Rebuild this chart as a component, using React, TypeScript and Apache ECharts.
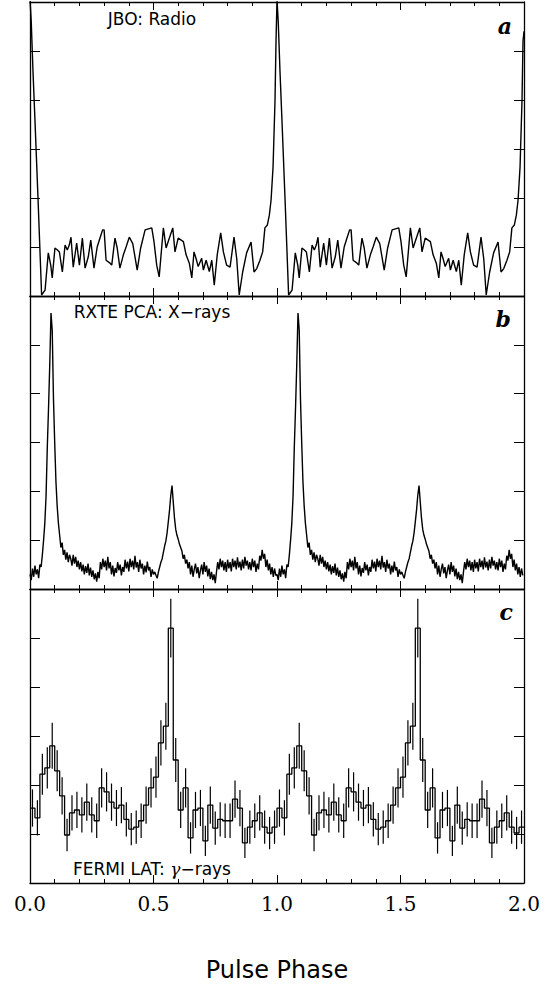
import React, { useEffect, useRef } from "react";
import * as echarts from "echarts";

// ---------- DATA (one rotation; the figure shows two identical cycles) ----------
// Panel a: JBO radio profile [phase, intensity]
const radioPhase = [
  0.0, 0.005, 0.012, 0.02, 0.032, 0.042, 0.047, 0.061, 0.074, 0.084, 0.09, 0.101, 0.111, 0.119, 0.131,
  0.142, 0.151, 0.159, 0.166, 0.175, 0.189, 0.2, 0.212, 0.223, 0.236, 0.246, 0.259, 0.272, 0.283,
  0.294, 0.3, 0.308, 0.324, 0.331, 0.344, 0.353, 0.364, 0.378, 0.389, 0.402, 0.416, 0.434, 0.448,
  0.466, 0.493, 0.502, 0.513, 0.523, 0.54, 0.551, 0.564, 0.578, 0.587, 0.6, 0.621, 0.632, 0.645,
  0.655, 0.664, 0.672, 0.681, 0.695, 0.702, 0.713, 0.726, 0.736, 0.746, 0.758, 0.772, 0.783, 0.796,
  0.81, 0.826, 0.837, 0.847, 0.861, 0.877, 0.895, 0.907, 0.918, 0.931, 0.942, 0.951, 0.961, 0.969,
  0.976, 0.984, 0.992, 0.996,
];
const radioValue = [
  6.05, 5.6, 4.6, 3.6, 2.05, 0.7, 0.02, 0.12, 0.88, 0.63, 0.37, 0.98, 0.94, 0.9, 0.49,
  1.04, 0.94, 1.04, 1.2, 0.59, 1.08, 0.63, 1.18, 0.57, 0.8, 1.14, 0.57, 1.0, 1.18,
  1.35, 1.35, 0.73, 0.67, 0.63, 1.18, 0.98, 0.57, 0.84, 1.0, 1.2, 1.07, 0.53, 0.98,
  1.35, 1.39, 1.11, 0.63, 0.39, 1.39, 0.98, 1.18, 1.39, 0.9, 1.18, 1.11, 0.84, 0.67,
  0.37, 0.9, 0.77, 0.6, 0.77, 0.53, 0.73, 0.5, 0.73, 0.22, 0.84, 1.29, 0.9, 0.63,
  0.59, 1.2, 0.76, 0.02, 0.49, 0.88, 1.1, 0.49, 0.56, 0.73, 0.9, 1.39, 1.45, 1.65,
  1.96, 2.63, 4.0, 5.2,
];
const radioEndValue = 5.4; // last point at phase 2.0

// Panel b: RXTE PCA X-ray profile, phase step 0.005 from 0.000 to 0.995
const xrayStep = 0.005;
const xrayValue = [
  0.30, 0.18, 0.42, 0.25, 0.48, 0.30, 0.40, 0.22, 0.50, 0.45,
  0.70, 1.00, 1.35, 1.90, 2.90, 3.70, 4.60, 5.65, 5.30, 3.90, 3.00, 2.20, 1.70, 1.35, 1.10, 0.85, 0.95, 0.70, 0.80, 0.60, 0.75, 0.55, 0.70,
  0.62, 0.48, 0.70, 0.52, 0.66, 0.45, 0.58, 0.40, 0.55, 0.36,
  0.50, 0.30, 0.47, 0.33, 0.52, 0.28, 0.44, 0.25, 0.38, 0.20,
  0.32, 0.15, 0.35, 0.22, 0.55, 0.40, 0.62, 0.45, 0.58, 0.38,
  0.66, 0.42, 0.55, 0.30, 0.48, 0.26, 0.43, 0.33, 0.55, 0.38,
  0.50, 0.28, 0.45, 0.35, 0.60, 0.42, 0.56, 0.36, 0.62, 0.45,
  0.58, 0.40, 0.68, 0.44, 0.55, 0.35, 0.60, 0.42, 0.52, 0.30,
  0.48, 0.34, 0.56, 0.38, 0.45, 0.25, 0.40, 0.30,
  0.35, 0.28, 0.22, 0.35, 0.45, 0.55, 0.62, 0.75, 0.88, 0.98, 1.15, 1.38, 1.62, 1.92, 2.12, 1.78, 1.45, 1.22, 1.10, 1.02, 0.92, 0.85, 0.78, 0.62, 0.70, 0.52, 0.60,
  0.42, 0.55, 0.30, 0.48, 0.25, 0.40, 0.52, 0.32, 0.45, 0.22,
  0.38, 0.50, 0.30, 0.55, 0.35, 0.48, 0.26, 0.42, 0.20, 0.35,
  0.18, 0.30, 0.12, 0.35, 0.55, 0.40, 0.62, 0.45, 0.58, 0.38,
  0.55, 0.35, 0.60, 0.42, 0.55, 0.36, 0.62, 0.45, 0.58, 0.40,
  0.65, 0.44, 0.56, 0.38, 0.60, 0.42, 0.66, 0.48, 0.58, 0.40,
  0.55, 0.38, 0.62, 0.45, 0.58, 0.35, 0.52, 0.40, 0.68, 0.58,
  0.80, 0.62, 0.72, 0.45, 0.60, 0.38, 0.52, 0.30, 0.45, 0.25,
  0.42, 0.28,
];

// Panel c: Fermi LAT gamma-ray histogram, 50 bins of width 0.02 per cycle
const gammaBinWidth = 0.02;
const gammaValue = [
  1.53, 1.33, 2.22, 2.35, 2.80, 2.29, 1.78, 0.98, 1.43, 1.49,
  1.39, 1.65, 1.39, 1.27, 1.94, 1.86, 1.65, 1.53, 1.59, 1.30,
  1.10, 1.14, 1.27, 1.59, 1.94, 2.16, 2.86, 3.20, 5.20, 2.51,
  1.49, 1.94, 0.92, 1.49, 1.53, 0.86, 1.59, 1.12, 1.30, 1.27,
  1.27, 1.71, 1.53, 0.82, 1.14, 1.27, 1.43, 1.14, 1.02, 1.14,
];
const gammaError = [
  0.38, 0.36, 0.42, 0.42, 0.47, 0.42, 0.38, 0.33, 0.36, 0.37,
  0.36, 0.38, 0.36, 0.35, 0.40, 0.40, 0.38, 0.37, 0.37, 0.35,
  0.33, 0.34, 0.35, 0.38, 0.40, 0.42, 0.46, 0.48, 0.60, 0.45,
  0.37, 0.40, 0.32, 0.37, 0.37, 0.31, 0.38, 0.34, 0.35, 0.35,
  0.35, 0.38, 0.37, 0.31, 0.34, 0.35, 0.36, 0.34, 0.33, 0.34,
];

const xTickLabels = ["0.0", "0.5", "1.0", "1.5", "2.0"];
const cycles = [0, 1];

export default function App() {
  const ref = useRef<HTMLDivElement>(null);

  useEffect(() => {
    if (!ref.current) return;
    const chart = echarts.init(ref.current, null, { renderer: "svg" });

    const radioData: number[][] = [];
    cycles.forEach((c) => radioPhase.forEach((p, i) => radioData.push([p + c, radioValue[i]])));
    radioData.push([2.0, radioEndValue]);

    const xrayData: number[][] = [];
    cycles.forEach((c) => xrayValue.forEach((v, i) => xrayData.push([c + i * xrayStep, v])));

    const gammaSteps: number[][] = [];
    const gammaErr: number[][] = [];
    cycles.forEach((c) =>
      gammaValue.forEach((v, i) => {
        const x0 = c + i * gammaBinWidth;
        gammaSteps.push([x0, v], [x0 + gammaBinWidth, v]);
        gammaErr.push([x0 + gammaBinWidth / 2, v, gammaError[i]]);
      })
    );

    const black = "#000";
    const L = 30, Wd = 494;
    const grids = [
      { left: L, width: Wd, top: 2, height: 294 },
      { left: L, width: Wd, top: 296, height: 293 },
      { left: L, width: Wd, top: 589, height: 294 },
    ];

    const xAxes: any[] = [];
    const yAxes: any[] = [];
    grids.forEach((_, gi) => {
      ["bottom", "top"].forEach((pos) => {
        const isLabelled = gi === 2 && pos === "bottom";
        xAxes.push({
          type: "value",
          gridIndex: gi,
          position: pos,
          min: 0,
          max: 2,
          interval: 0.5,
          axisLine: { show: true, onZero: false, lineStyle: { color: black, width: 1.3 } },
          axisTick: { show: true, inside: true, length: 8, lineStyle: { color: black, width: 1 } },
          minorTick: { show: true, splitNumber: 5, length: 4, lineStyle: { color: black, width: 1 } },
          splitLine: { show: false },
          minorSplitLine: { show: false },
          axisLabel: {
            show: isLabelled,
            margin: 11,
            color: black,
            fontFamily: "DejaVu Serif",
            fontSize: 20,
            formatter: (v: number) => xTickLabels[Math.round(v / 0.5)] ?? "",
          },
        });
      });
      ["left", "right"].forEach((pos) => {
        yAxes.push({
          type: "value",
          gridIndex: gi,
          position: pos,
          min: 0,
          max: 6,
          interval: 1,
          axisLine: { show: true, onZero: false, lineStyle: { color: black, width: 1.3 } },
          axisTick: { show: true, inside: true, length: 10, lineStyle: { color: black, width: 1 } },
          axisLabel: { show: false },
          splitLine: { show: false },
        });
      });
    });

    const lineBase = {
      type: "line",
      showSymbol: false,
      symbol: "none",
      clip: true,
      silent: true,
    };

    const labelStyle = {
      fill: black,
      fontFamily: "DejaVu Sans",
      fontSize: 17,
      align: "center",
      verticalAlign: "middle",
    };
    const letterStyle = {
      fill: black,
      fontFamily: "DejaVu Serif",
      fontStyle: "italic",
      fontWeight: "bold",
      fontSize: 22,
      align: "right",
      verticalAlign: "bottom",
    };

    chart.setOption({
      animation: false,
      backgroundColor: "#fff",
      grid: grids,
      xAxis: xAxes,
      yAxis: yAxes,
      series: [
        {
          ...lineBase,
          name: "Radio",
          xAxisIndex: 0,
          yAxisIndex: 0,
          data: radioData,
          lineStyle: { color: black, width: 1.4 },
        },
        {
          ...lineBase,
          name: "X-rays",
          xAxisIndex: 2,
          yAxisIndex: 2,
          data: xrayData,
          lineStyle: { color: black, width: 1.4 },
        },
        {
          ...lineBase,
          name: "Gamma-rays",
          xAxisIndex: 4,
          yAxisIndex: 4,
          data: gammaSteps,
          lineStyle: { color: black, width: 1.3 },
        },
        {
          type: "custom",
          name: "Gamma errors",
          xAxisIndex: 4,
          yAxisIndex: 4,
          silent: true,
          encode: { x: 0, y: 1 },
          data: gammaErr,
          renderItem: (_params: any, api: any) => {
            const x = api.value(0);
            const y = api.value(1);
            const e = api.value(2);
            const p1 = api.coord([x, y - e]);
            const p2 = api.coord([x, y + e]);
            return {
              type: "line",
              shape: { x1: p1[0], y1: p1[1], x2: p2[0], y2: p2[1] },
              style: { stroke: black, lineWidth: 1.2 },
            };
          },
        },
      ],
      graphic: [
        { type: "text", x: 152, y: 19, style: { ...labelStyle, text: "JBO: Radio" } },
        { type: "text", x: 152, y: 312, style: { ...labelStyle, text: "RXTE PCA: X\u2212rays" } },
        {
          type: "text",
          x: 152,
          y: 869,
          style: {
            ...labelStyle,
            text: "{n|FERMI LAT: }{g|\u03b3}{n|\u2212rays}",
            rich: {
              n: { fontFamily: "DejaVu Sans", fontSize: 17, fill: black },
              g: { fontFamily: "DejaVu Serif", fontStyle: "italic", fontSize: 17, fill: black },
            },
          },
        },
        { type: "text", x: 512, y: 37, style: { ...letterStyle, text: "a" } },
        { type: "text", x: 511, y: 330, style: { ...letterStyle, text: "b" } },
        { type: "text", x: 513, y: 623, style: { ...letterStyle, text: "c" } },
        {
          type: "text",
          x: 277,
          y: 970,
          style: {
            fill: black,
            fontFamily: "DejaVu Sans",
            fontSize: 24,
            align: "center",
            verticalAlign: "middle",
            text: "Pulse Phase",
          },
        },
      ],
    });

    return () => chart.dispose();
  }, []);

  return (
    <div
      ref={ref}
      style={{ position: "fixed", left: 0, top: 0, width: 552, height: 987, background: "#fff" }}
    />
  );
}
